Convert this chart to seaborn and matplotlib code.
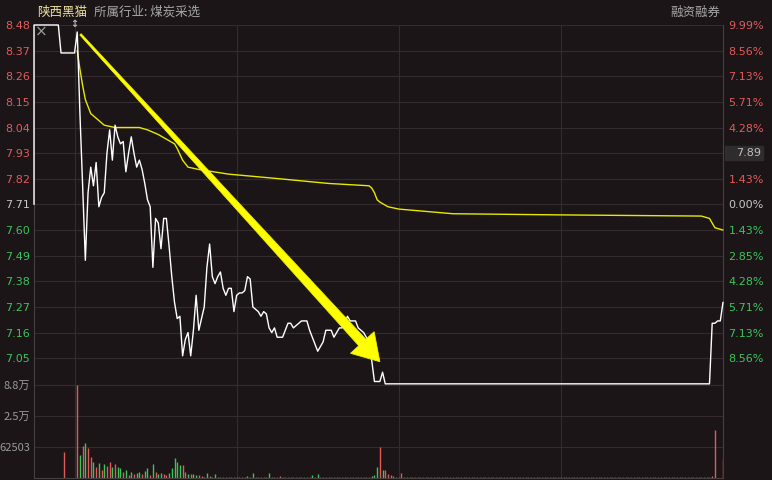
import matplotlib
matplotlib.use("Agg")
import matplotlib.pyplot as plt
import seaborn as sns
import numpy as np
import pandas as pd
from matplotlib.patches import Rectangle, Polygon
from matplotlib.transforms import IdentityTransform

# ---------------- data ----------------
stock_name = "陕西黑猫"
industry_text = "所属行业: 煤炭采选"
margin_text = "融资融券"
cursor_price_text = "7.89"

prev_close = 7.71
limit_down = 6.94
price_top = 8.48

# call auction segment (minutes before 9:30)
auction_min = [-15, -15, -6, -5, 0]
auction_price = [7.71, 8.48, 8.48, 8.36, 8.36]

# intraday price (minutes after 9:30)
price_min = list(range(0, 116)) + [235, 236, 237, 238, 239, 240]
price_val = [
    8.36, 8.45, 8.10, 7.79, 7.47, 7.76, 7.87, 7.79, 7.89, 7.70,
    7.74, 7.76, 7.93, 8.03, 7.90, 8.05, 8.00, 7.97, 7.98, 7.85,
    7.93, 8.00, 7.93, 7.87, 7.90, 7.86, 7.80, 7.73, 7.70, 7.44,
    7.65, 7.63, 7.52, 7.65, 7.65, 7.53, 7.40, 7.29, 7.22, 7.23,
    7.06, 7.13, 7.16, 7.06, 7.17, 7.32, 7.17, 7.22, 7.27, 7.44,
    7.54, 7.40, 7.37, 7.40, 7.42, 7.35, 7.32, 7.35, 7.35, 7.25,
    7.32, 7.33, 7.33, 7.34, 7.40, 7.39, 7.27, 7.26, 7.25, 7.23,
    7.25, 7.24, 7.18, 7.16, 7.18, 7.14, 7.14, 7.14, 7.17, 7.20,
    7.20, 7.18, 7.19, 7.20, 7.21, 7.21, 7.21, 7.17, 7.14, 7.11,
    7.08, 7.10, 7.12, 7.17, 7.17, 7.17, 7.14, 7.16, 7.18, 7.18,
    7.20, 7.23, 7.21, 7.21, 7.21, 7.18, 7.17, 7.16, 7.14, 7.10,
    7.04, 6.95, 6.95, 6.95, 6.99, 6.94,
    6.94, 7.20, 7.20, 7.21, 7.21, 7.29,
]

# average price line
avg_min = [1, 2, 3, 4, 5, 6, 8, 11, 15, 24, 27, 31, 34, 37, 38, 40, 42, 46,
           57, 76, 94, 109, 110, 111, 112, 113, 116, 120, 140, 180, 232, 235,
           236, 237, 240]
avg_val = [8.37, 8.29, 8.22, 8.16, 8.13, 8.10, 8.08, 8.05, 8.04, 8.04, 8.03,
           8.01, 7.99, 7.97, 7.95, 7.90, 7.87, 7.86, 7.84, 7.82, 7.80, 7.79,
           7.78, 7.76, 7.73, 7.72, 7.70, 7.69, 7.67, 7.665, 7.66, 7.65, 7.63,
           7.61, 7.60]

# volume bars (minute, shares, 1 = up/red, 0 = down/green)
vol_min = [-4, 1, 2, 3, 4, 5, 6, 7, 8, 9, 10, 11, 12, 13, 14, 15, 16, 17, 18,
           19, 20, 21, 22, 23, 24, 25, 26, 27, 28, 29, 30, 31, 32, 33, 34, 35,
           36, 37, 38, 39, 40, 41, 42, 43, 44, 45, 46, 47, 48, 49, 50, 51, 52,
           64, 66, 72, 76, 88, 90, 110, 111, 112, 113, 114, 115, 116, 117, 118,
           121, 236, 237, 240]
vol_val = [52000, 187000, 46000, 64500, 71000, 60000, 43000, 33000, 23000,
           31000, 16000, 28000, 24000, 33000, 22000, 27600, 22000, 19500, 12700,
           16000, 6000, 12700, 8000, 10700, 12700, 8000, 14000, 19500, 6000,
           27500, 12000, 8000, 10700, 8000, 6000, 10700, 19500, 40000, 33000,
           27000, 26000, 12000, 9000, 8000, 9000, 6000, 6000, 4000, 3000, 10000,
           4000, 3000, 8000,
           5000, 9500, 10000, 4000, 6000, 9000, 4000, 6000, 22000, 62000, 16000,
           16000, 8000, 6000, 4000, 10000, 4000, 97000, 37700]
vol_up = [1, 1, 0, 1, 0, 1, 1, 0, 1, 0, 1, 0, 1, 1, 0, 1, 0, 0, 1, 0, 1, 0, 1,
          0, 0, 1, 0, 0, 1, 0, 1, 0, 0, 1, 1, 0, 0, 0, 0, 0, 1, 1, 0, 1, 0, 0,
          1, 1, 0, 0, 1, 0, 0,
          0, 0, 0, 1, 0, 0, 0, 0, 0, 1, 0, 1, 1, 1, 1, 1, 1, 1, 1]
quiet_minutes = [m for m in range(53, 236) if m not in vol_min]
quiet_volume = 1800

price_ticks = [8.48, 8.37, 8.26, 8.15, 8.04, 7.93, 7.82, 7.71, 7.60, 7.49,
               7.38, 7.27, 7.16, 7.05]
pct_labels = ["9.99%", "8.56%", "7.13%", "5.71%", "4.28%", "", "1.43%",
              "0.00%", "1.43%", "2.85%", "4.28%", "5.71%", "7.13%", "8.56%"]
vol_ticks = [62503, 125006, 187509]
vol_tick_labels = ["62503", "2.5万", "8.8万"]

# trend arrow end points (minute, price)
arrow_tail = (2.2, 8.44)
arrow_tip = (113.0, 7.035)

# ---------------- style ----------------
BG = "#1b1518"
GRID = "#352b2f"
SPINE = "#45403f"
RED = "#e25a5a"
GREEN = "#3cc45a"
NEUTRAL = "#c8c8c8"

sns.set_style("dark", {"axes.facecolor": BG, "figure.facecolor": BG,
                       "grid.color": GRID, "axes.edgecolor": SPINE})
plt.rcParams["font.family"] = ["DejaVu Sans", "Noto Sans CJK SC"]
CJK = ["Noto Sans CJK SC", "DejaVu Sans"]

W, H = 772, 480
fig = plt.figure(figsize=(W / 100, H / 100), dpi=100)
fig.patch.set_facecolor(BG)


def rect(l, t, r, b):
    return [l / W, 1 - b / H, (r - l) / W, (b - t) / H]


ax = fig.add_axes(rect(34, 25, 723, 385))
axv = fig.add_axes(rect(34, 385, 723, 478))
for a in (ax, axv):
    a.set_facecolor(BG)
    a.set_xlim(-15, 240)
    a.set_xticks([0, 60, 120, 180])
    a.tick_params(axis="x", length=0, labelbottom=False)
    a.grid(True, color=GRID, linewidth=0.8)
    for s in a.spines.values():
        s.set_color(SPINE)
        s.set_linewidth(0.8)
    a.spines["top"].set_visible(False)

ybottom = limit_down - 0.005
ax.set_ylim(ybottom, price_top)
ax.set_yticks(price_ticks)
ax.set_yticklabels([f"{v:.2f}" for v in price_ticks])
ax.tick_params(axis="y", length=0, pad=3, labelsize=8)


def lab_color(v):
    if v > prev_close + 1e-9:
        return RED
    if v < prev_close - 1e-9:
        return GREEN
    return NEUTRAL


for lab, v in zip(ax.get_yticklabels(), price_ticks):
    lab.set_color(lab_color(v))

ax2 = ax.twinx()
ax2.set_ylim(ybottom, price_top)
ax2.set_yticks(price_ticks)
ax2.set_yticklabels(pct_labels)
ax2.tick_params(axis="y", length=0, pad=4, labelsize=8)
ax2.grid(False)
for s in ax2.spines.values():
    s.set_visible(False)
for lab, v in zip(ax2.get_yticklabels(), price_ticks):
    lab.set_color(lab_color(v))

# price line
pdf = pd.DataFrame({"minute": auction_min + price_min,
                    "price": auction_price + price_val})
sns.lineplot(data=pdf, x="minute", y="price", ax=ax, color="white",
             linewidth=1.0, sort=False, estimator=None, zorder=4)
adf = pd.DataFrame({"minute": avg_min, "avg": avg_val})
sns.lineplot(data=adf, x="minute", y="avg", ax=ax, color="#e8e800",
             linewidth=1.0, sort=False, estimator=None, zorder=3)
for ln in ax.get_lines():
    ln.set_clip_on(False)
ax.set_xlabel("")
ax.set_ylabel("")

# trend arrow: thin tail widening toward a large head (pixel geometry)
T = ax.transData.transform(arrow_tail)
P = ax.transData.transform(arrow_tip)
u = (P - T) / np.hypot(*(P - T))
n = np.array([-u[1], u[0]])
head_len, head_half, shaft_half, tail_half = 26.0, 16.0, 4.8, 0.9
B = P - u * head_len
verts = [T + n * tail_half, B + n * shaft_half, B + n * head_half, P,
         B - n * head_half, B - n * shaft_half, T - n * tail_half]
fig.patches.append(Polygon(verts, closed=True, transform=IdentityTransform(),
                           fc="#ffff00", ec="#f0f000", lw=0.6, zorder=10))

# volume
axv.set_ylim(0, vol_ticks[-1])
axv.vlines(vol_min, 0, vol_val,
           colors=[RED if u_ else GREEN for u_ in vol_up], linewidth=1.0)
axv.vlines(quiet_minutes, 0, quiet_volume, colors="#b25a5a", linewidth=1.0)
axv.set_yticks(vol_ticks)
axv.set_yticklabels(vol_tick_labels)
axv.tick_params(axis="y", length=0, pad=3, labelsize=8, colors="#9a9a9a")
for lab in axv.get_yticklabels():
    lab.set_family(CJK)

# header texts
fig.text(37 / W, 1 - 12 / H, stock_name, ha="left", va="center",
         color="#f0e3a0", fontsize=9, family=CJK)
fig.text(94 / W, 1 - 12 / H, industry_text, ha="left", va="center",
         color="#a8a8a8", fontsize=9, family=CJK)
fig.text(720 / W, 1 - 12 / H, margin_text, ha="right", va="center",
         color="#a8a8a8", fontsize=9, family=CJK)

# small icons
fig.text(41.5 / W, 1 - 32 / H, "×", ha="center", va="center",
         color="#9a9a9a", fontsize=11)
fig.text(74 / W, 1 - 24 / H, "↕", ha="center", va="center",
         color="#b8b8b8", fontsize=7, fontweight="bold")

# cursor price box on right axis
fig.patches.append(Rectangle((725 / W, 1 - 160 / H), 38 / W, 14 / H,
                             transform=fig.transFigure, color="#2e2c2d",
                             zorder=5))
fig.text(761 / W, 1 - 153 / H, cursor_price_text, ha="right", va="center",
         color="#c0c0c0", fontsize=8, zorder=6)

fig.savefig("out.png", dpi=100, facecolor=BG)
